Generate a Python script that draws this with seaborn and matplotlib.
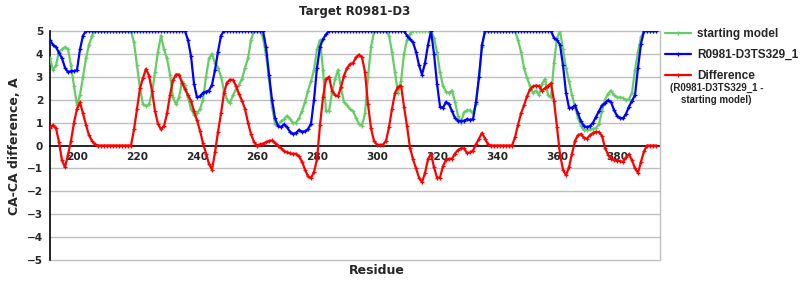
import numpy as np
import pandas as pd
import matplotlib
matplotlib.use("Agg")
import matplotlib.pyplot as plt
import seaborn as sns
from matplotlib.ticker import MultipleLocator
from matplotlib.lines import Line2D

residues = list(range(191, 394))

starting_model = [
    3.8, 3.3, 3.5, 4.1, 4.2, 4.3, 4.2, 3.5, 2.6, 1.75,      # 191-200
    2.2, 3.0, 3.8, 4.4, 4.8, 5, 5, 5, 5, 5,                 # 201-210
    5, 5, 5, 5, 5, 5, 5, 5, 4.5, 3.5,                       # 211-220
    2.5, 1.8, 1.72, 1.8, 2.3, 3.2, 4.1, 4.8, 4.2, 3.8,      # 221-230
    3.1, 2.1, 1.8, 2.1, 2.8, 2.65, 2.1, 1.6, 1.35, 1.4,     # 231-240
    1.6, 2.0, 3.0, 3.8, 4.0, 3.6, 3.4, 3.0, 2.4, 2.0,       # 241-250
    1.85, 2.2, 2.45, 2.65, 2.9, 3.4, 3.8, 4.6, 5, 5,        # 251-260
    5, 4.7, 3.95, 2.95, 1.7, 0.95, 0.9, 1.05, 1.15, 1.3,    # 261-270
    1.17, 0.97, 1.0, 1.2, 1.5, 1.9, 2.4, 2.8, 3.3, 4.2,     # 271-280
    4.6, 3.3, 1.5, 1.5, 2.3, 2.9, 3.3, 2.5, 1.9, 1.75,      # 281-290
    1.6, 1.5, 1.2, 0.95, 0.87, 1.4, 3.0, 4.3, 4.95, 5,      # 291-300
    5, 5, 5, 4.8, 4.08, 3.2, 2.3, 2.8, 4.0, 4.6,            # 301-310
    4.88, 5, 5, 5, 5, 5, 5, 5, 4.7, 4.08,                   # 311-320
    3.2, 2.6, 2.35, 2.3, 2.4, 1.9, 1.3, 1.0, 1.45, 1.53,    # 321-330
    1.53, 1.4, 1.8, 3.0, 4.3, 5, 5, 5, 5, 5,                # 331-340
    5, 5, 5, 5, 5, 5, 4.6, 4.1, 3.4, 2.95,                  # 341-350
    2.6, 2.3, 2.4, 2.2, 2.7, 2.9, 2.2, 2.1, 3.6, 4.7,       # 351-360
    5.0, 4.2, 3.4, 2.8, 2.2, 1.7, 1.2, 0.87, 0.68, 0.68,    # 361-370
    0.7, 0.72, 0.76, 0.95, 1.5, 2.0, 2.25, 2.4, 2.2, 2.1,   # 371-380
    2.1, 2.08, 1.97, 2.03, 2.3, 3.3, 4.1, 4.74, 5, 5,       # 381-390
    5, 5, 5,                                                # 391-393
]

target_model = [
    4.6, 4.4, 4.3, 4.05, 3.8, 3.4, 3.2, 3.25, 3.25, 3.3,    # 191-200
    4.2, 4.8, 5, 5, 5, 5, 5, 5, 5, 5,                       # 201-210
    5, 5, 5, 5, 5, 5, 5, 5, 5, 5,                           # 211-220
    5, 5, 5, 5, 5, 5, 5, 5, 5, 5,                           # 221-230
    5, 5, 5, 5, 5, 5, 4.6, 3.9, 2.7, 2.1,                   # 231-240
    2.15, 2.3, 2.35, 2.4, 2.65, 3.3, 4.1, 4.8, 5, 5,        # 241-250
    5, 5, 5, 5, 5, 5, 5, 5, 5, 5,                           # 251-260
    5, 5, 4.3, 3.1, 2.0, 1.2, 0.85, 0.8, 0.92, 0.8,         # 261-270
    0.6, 0.5, 0.55, 0.68, 0.6, 0.62, 0.72, 0.95, 2.0, 3.4,  # 271-280
    4.3, 4.65, 4.85, 5, 5, 5, 5, 5, 5, 5,                   # 281-290
    5, 5, 5, 5, 5, 5, 5, 5, 5, 5,                           # 291-300
    5, 5, 5, 5, 5, 5, 5, 5, 5, 4.8,                         # 301-310
    4.65, 4.5, 4.1, 3.5, 3.1, 3.6, 4.4, 5.0, 4.0, 2.7,      # 311-320
    1.7, 1.65, 1.9, 1.8, 1.5, 1.2, 1.08, 1.05, 1.08, 1.15,  # 321-330
    1.12, 1.15, 1.9, 3.0, 4.4, 5, 5, 5, 5, 5,               # 331-340
    5, 5, 5, 5, 5, 5, 5, 5, 5, 5,                           # 341-350
    5, 5, 5, 5, 5, 5, 5, 5, 4.7, 4.6,                       # 351-360
    4.4, 3.5, 2.3, 1.65, 1.65, 1.75, 1.4, 1.05, 0.85, 0.8,  # 361-370
    0.85, 1.0, 1.25, 1.5, 1.75, 1.85, 1.97, 1.9, 1.55, 1.3, # 371-380
    1.2, 1.18, 1.38, 1.7, 1.95, 2.2, 3.4, 4.45, 5, 5,       # 381-390
    5, 5, 5,                                                # 391-393
]

difference = [
    0.75, 0.9, 0.75, 0.15, -0.65, -0.95, -0.4, 0.2, 1.0, 1.6,        # 191-200
    1.88, 1.4, 0.9, 0.45, 0.2, 0.05, 0, 0, 0, 0,                     # 201-210
    0, 0, 0, 0, 0, 0, 0, 0, 0.7, 1.6,                                # 211-220
    2.5, 2.95, 3.35, 3.05, 2.4, 1.5, 0.95, 0.7, 0.85, 1.4,           # 221-230
    2.2, 2.85, 3.1, 3.1, 2.75, 2.45, 2.2, 1.95, 1.5, 1.1,            # 231-240
    0.65, 0.1, -0.35, -0.8, -1.05, -0.3, 0.6, 1.4, 2.3, 2.75,        # 241-250
    2.88, 2.86, 2.6, 2.25, 1.95, 1.6, 1.0, 0.5, 0.15, 0.0,           # 251-260
    0.05, 0.08, 0.15, 0.2, 0.22, 0.12, 0.0, -0.12, -0.24, -0.3,      # 261-270
    -0.34, -0.36, -0.36, -0.48, -0.7, -1.05, -1.35, -1.42, -1.15, -0.6,  # 271-280
    0.9, 2.1, 2.9, 3.0, 2.4, 2.2, 2.15, 2.55, 3.05, 3.38,            # 281-290
    3.55, 3.6, 3.85, 3.97, 3.85, 3.2, 1.8, 0.75, 0.2, 0.03,          # 291-300
    0.03, 0.04, 0.2, 0.8, 1.6, 2.3, 2.55, 2.62, 1.7, 0.85,           # 301-310
    -0.1, -0.6, -1.0, -1.4, -1.6, -1.2, -0.6, -0.36, -0.95, -1.4,    # 311-320
    -1.4, -0.9, -0.62, -0.58, -0.58, -0.35, -0.2, -0.12, -0.13, -0.33,  # 321-330
    -0.3, -0.22, 0.05, 0.3, 0.55, 0.3, 0.05, 0, 0, 0,                # 331-340
    0, 0, 0, 0, 0, 0.35, 0.9, 1.4, 1.75, 2.15,                       # 341-350
    2.45, 2.58, 2.62, 2.6, 2.4, 2.5, 2.6, 2.72, 1.95, 0.8,           # 351-360
    -0.4, -1.05, -1.3, -0.95, -0.35, 0.2, 0.45, 0.5, 0.33, 0.3,      # 361-370
    0.45, 0.55, 0.6, 0.58, 0.42, -0.1, -0.4, -0.57, -0.62, -0.66,    # 371-380
    -0.68, -0.72, -0.52, -0.38, -0.65, -1.0, -1.2, -0.7, -0.25, 0.0, # 381-390
    0, 0, 0,                                                         # 391-393
]

series_names = ["starting model", "R0981-D3TS329_1", "Difference"]
series_colors = ["#66CC66", "#0000FF", "#FF0000"]
x_ticks = list(range(200, 381, 20))
y_ticks = list(range(-5, 6))

assert len(residues) == len(starting_model) == len(target_model) == len(difference)

sns.set_style("white")
plt.rcParams['font.family'] = ['DejaVu Sans']
plt.rcParams['axes.unicode_minus'] = True

df = pd.DataFrame({
    "Residue": residues,
    series_names[0]: starting_model,
    series_names[1]: target_model,
    series_names[2]: difference,
})

fig = plt.figure(figsize=(8, 3), dpi=100)
ax = fig.add_axes([50 / 800, 40 / 300, 610 / 800, 229 / 300])

for name, col in zip(series_names, series_colors):
    sns.lineplot(data=df, x="Residue", y=name, ax=ax, color=col, lw=1.6,
                 marker="+", markersize=3.5, markeredgewidth=0.9,
                 markeredgecolor=col, zorder=3, label=name)

leg = ax.get_legend()
if leg is not None:
    leg.remove()

ax.set_xlim(191, 394.33)
ax.set_ylim(-5, 5)
ax.set_yticks(y_ticks)
ax.set_xticks(x_ticks)
ax.xaxis.set_minor_locator(MultipleLocator(10))

ax.grid(False)
for yv in y_ticks:
    if yv != 0:
        ax.axhline(yv, color="#C0C0C0", lw=1.0, zorder=1, clip_on=False)

ax.spines["bottom"].set_position(("data", 0))
ax.spines["bottom"].set_color("black")
ax.spines["bottom"].set_linewidth(1.2)
ax.spines["bottom"].set_zorder(2)
ax.spines["left"].set_color("black")
ax.spines["left"].set_linewidth(1.2)
ax.spines["left"].set_zorder(2.5)
ax.spines["top"].set_visible(False)
ax.spines["right"].set_color("#C0C0C0")
ax.spines["right"].set_linewidth(1.0)

ax.tick_params(axis="x", which="both", direction="out", length=4, color="#A0A0A0",
               pad=1, labelsize=7.6)
ax.tick_params(axis="y", which="major", direction="out", length=3, color="black",
               pad=2, labelsize=7.6)
for lab in ax.get_xticklabels() + ax.get_yticklabels():
    lab.set_fontweight("bold")

ax.set_xlabel("")
ax.set_ylabel("")
fig.text(377 / 800, 1 - 271 / 300, "Residue", ha="center", va="center",
         fontsize=9, fontweight="bold", family="DejaVu Sans")
fig.text(15 / 800, 1 - 146 / 300, "CA-CA difference, A", ha="center", va="center",
         rotation=90, fontsize=9, fontweight="bold", family="DejaVu Sans")
fig.text(355 / 800, 1 - 12 / 300, "Target R0981-D3", ha="center", va="center",
         fontsize=8.5, fontweight="bold", family="DejaVu Sans")

handles = [Line2D([], [], color=c, lw=1.6, marker="+", markersize=3.5,
                  markeredgewidth=0.9) for c in series_colors]
fig.legend(handles, series_names, loc="upper left",
           bbox_to_anchor=(665 / 800, 1 - 28 / 300), frameon=False,
           prop={"family": "Liberation Sans", "weight": "bold", "size": 8.5},
           handlelength=2.2, handletextpad=0.5, labelspacing=0.75,
           borderaxespad=0, borderpad=0)
fig.text(670 / 800, 1 - 88 / 300, "(R0981-D3TS329_1 -", ha="left", va="center",
         fontsize=7, fontweight="bold", family="Liberation Sans")
fig.text(681 / 800, 1 - 100 / 300, "starting model)", ha="left", va="center",
         fontsize=7, fontweight="bold", family="Liberation Sans")

fig.savefig("out.png", dpi=100)
